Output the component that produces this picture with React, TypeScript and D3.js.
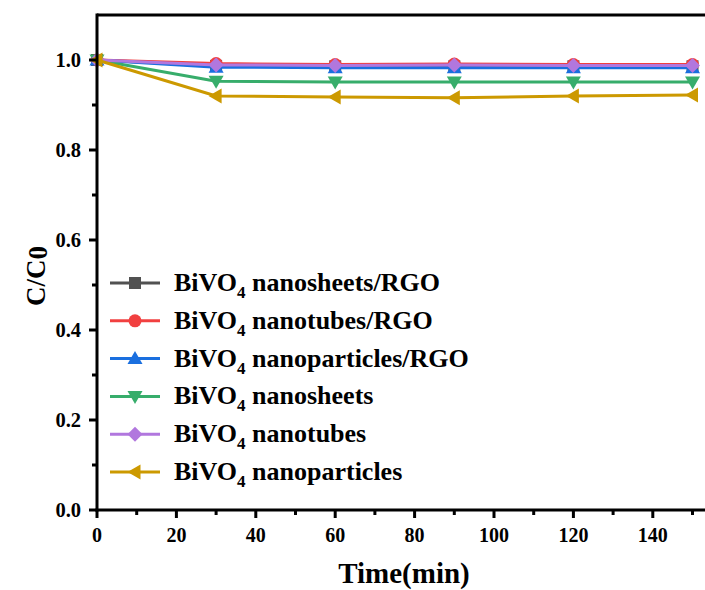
import React from 'react';
import * as d3 from 'd3';

const width = 705;
const height = 590;
const margin = { top: 15, left: 97, bottom: 80 };

const times = [0, 30, 60, 90, 120, 150];
const seriesNames = [
  'nanosheets/RGO',
  'nanotubes/RGO',
  'nanoparticles/RGO',
  'nanosheets',
  'nanotubes',
  'nanoparticles',
];
const sheetsRGO = [1.0, 0.987, 0.986, 0.986, 0.986, 0.986];
const tubesRGO = [1.0, 0.992, 0.99, 0.991, 0.99, 0.99];
const particlesRGO = [1.0, 0.984, 0.983, 0.983, 0.983, 0.983];
const sheets = [1.0, 0.953, 0.951, 0.951, 0.951, 0.951];
const tubes = [1.0, 0.989, 0.988, 0.989, 0.988, 0.988];
const particles = [1.0, 0.92, 0.918, 0.916, 0.92, 0.922];
const colors = ['#515151', '#F14040', '#1A6FDF', '#37AD6B', '#B177DE', '#CC9900'];
const symbols = ['square', 'circle', 'up', 'down', 'diamond', 'left'];
const xTicks = [0, 20, 40, 60, 80, 100, 120, 140];
const yTicks = [0, 0.2, 0.4, 0.6, 0.8, 1.0];

const allSeries = [sheetsRGO, tubesRGO, particlesRGO, sheets, tubes, particles];

const x = d3.scaleLinear().domain([0, 160]).range([margin.left, margin.left + 160 * 3.97]);
const y = d3.scaleLinear().domain([0, 1.1]).range([height - margin.bottom, margin.top]);

const font = '"Liberation Serif", "Times New Roman", serif';

function Marker({ kind, cx, cy, color }: { kind: string; cx: number; cy: number; color: string }) {
  const s = 6.5;
  if (kind === 'square') return <rect x={cx - s + 0.5} y={cy - s + 0.5} width={2 * s - 1} height={2 * s - 1} fill={color} />;
  if (kind === 'circle') return <circle cx={cx} cy={cy} r={s} fill={color} />;
  let pts: number[][] = [];
  if (kind === 'up') pts = [[cx, cy - s - 1], [cx + s + 1, cy + s - 1], [cx - s - 1, cy + s - 1]];
  if (kind === 'down') pts = [[cx, cy + s + 1], [cx + s + 1, cy - s + 1], [cx - s - 1, cy - s + 1]];
  if (kind === 'diamond') pts = [[cx, cy - s - 1], [cx + s + 1, cy], [cx, cy + s + 1], [cx - s - 1, cy]];
  if (kind === 'left') pts = [[cx - s - 1, cy], [cx + s - 1, cy - s - 1], [cx + s - 1, cy + s + 1]];
  return <polygon points={pts.map(p => p.join(',')).join(' ')} fill={color} />;
}

export default function App() {
  const line = d3.line<number>()
    .x((_, i) => x(times[i]))
    .y(d => y(d));

  const x0 = margin.left;
  const y0 = y(0);
  const minorX = d3.range(10, 170, 20);
  const minorY = [0.1, 0.3, 0.5, 0.7, 0.9];
  const legendTop = 283;
  const legendStep = 37.8;

  return (
    <svg width={width} height={height} style={{ position: 'absolute', left: 0, top: 0, background: '#fff' }}
      fontFamily={font} fontWeight="bold">
      {/* data */}
      {allSeries.map((vals, k) => (
        <g key={k}>
          <path d={line(vals) || ''} fill="none" stroke={colors[k]} strokeWidth={3} />
          {vals.map((v, i) => (
            <Marker key={i} kind={symbols[k]} cx={x(times[i])} cy={y(v)} color={colors[k]} />
          ))}
        </g>
      ))}

      {/* axes */}
      <line x1={x0} x2={width + 10} y1={y(1.1)} y2={y(1.1)} stroke="#000" strokeWidth={3} />
      <line x1={x0} x2={x0} y1={y(1.1) - 1.5} y2={y0 + 1.5} stroke="#000" strokeWidth={3} />
      <line x1={x0 - 1.5} x2={width + 10} y1={y0} y2={y0} stroke="#000" strokeWidth={3} />

      {xTicks.map(t => (
        <g key={t}>
          <line x1={x(t)} x2={x(t)} y1={y0} y2={y0 + 8} stroke="#000" strokeWidth={3} />
          <text x={x(t)} y={542} textAnchor="middle" fontSize={20}>{t}</text>
        </g>
      ))}
      {minorX.map(t => (
        <line key={t} x1={x(t)} x2={x(t)} y1={y0} y2={y0 + 5} stroke="#000" strokeWidth={3} />
      ))}
      {yTicks.map(t => (
        <g key={t}>
          <line x1={x0} x2={x0 - 8} y1={y(t)} y2={y(t)} stroke="#000" strokeWidth={3} />
          <text x={x0 - 16} y={y(t) + 7} textAnchor="end" fontSize={20.5}>{t.toFixed(1)}</text>
        </g>
      ))}
      {minorY.map(t => (
        <line key={t} x1={x0} x2={x0 - 5} y1={y(t)} y2={y(t)} stroke="#000" strokeWidth={3} />
      ))}

      {/* axis titles */}
      <text x={404} y={583} textAnchor="middle" fontSize={29}>Time(min)</text>
      <text transform="translate(45, 276) rotate(-90)" textAnchor="middle" fontSize={27}>
        C/C<tspan dy={2}>0</tspan>
      </text>

      {/* legend */}
      {seriesNames.map((name, k) => {
        const ly = legendTop + k * legendStep;
        return (
          <g key={name}>
            <line x1={110} x2={160} y1={ly} y2={ly} stroke={colors[k]} strokeWidth={3} />
            <Marker kind={symbols[k]} cx={135} cy={ly} color={colors[k]} />
            <text x={174} y={ly + 8} fontSize={26}>
              BiVO<tspan fontSize={17} dy={7}>4</tspan><tspan dy={-7}> {name}</tspan>
            </text>
          </g>
        );
      })}
    </svg>
  );
}
